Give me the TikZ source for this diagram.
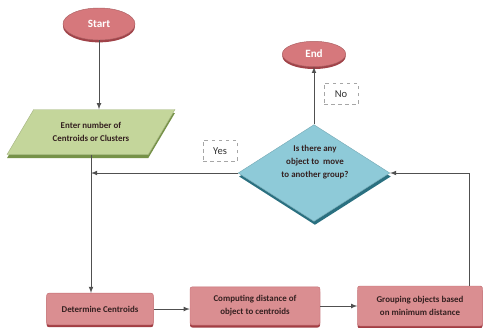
\documentclass[tikz,border=0pt]{standalone}
\usepackage{fontspec}
\setmainfont{Carlito}
\usetikzlibrary{shapes.geometric,shadows}

\definecolor{termred}{RGB}{214,120,124}
\definecolor{termdark}{RGB}{160,66,72}
\definecolor{boxred}{RGB}{218,142,145}
\definecolor{boxline}{RGB}{196,110,115}
\definecolor{boxdark}{RGB}{162,62,68}
\definecolor{inputgreen}{RGB}{196,214,155}
\definecolor{inputdark}{RGB}{118,146,72}
\definecolor{askblue}{RGB}{142,202,216}
\definecolor{askdark}{RGB}{42,112,128}
\definecolor{txtdark}{RGB}{52,32,32}
\definecolor{linegray}{RGB}{80,80,80}

\tikzset{
	term/.style={ellipse,fill=termred,draw=termred!80!black,thin,text=white,
		font=\fontsize{9.5}{11}\selectfont\bfseries,
		drop shadow={shadow xshift=0pt,shadow yshift=-2pt,fill=termdark,opacity=1}},
	proc/.style={rectangle,rounded corners=2pt,fill=boxred,draw=boxline,thin,
		text=txtdark,align=center,
		drop shadow={shadow xshift=0pt,shadow yshift=-2pt,fill=boxdark,opacity=1}},
	inbox/.style={trapezium,trapezium left angle=54,trapezium right angle=126,
		trapezium stretches=true,fill=inputgreen,draw=inputgreen!85!black,thin,
		text=txtdark,align=center,
		drop shadow={shadow xshift=0pt,shadow yshift=-3pt,fill=inputdark,opacity=1}},
	ask/.style={diamond,fill=askblue,draw=askblue!85!black,thin,
		drop shadow={shadow xshift=0.8pt,shadow yshift=-3pt,fill=askdark,opacity=1}},
	tag/.style={draw=gray!70,dashed,thin,text=gray!40!black,
		font=\fontsize{9}{10}\selectfont,minimum width=1.02cm,minimum height=0.64cm},
	conn/.style={draw=linegray,line width=0.8pt,-latex}
}

\begin{document}
\begin{tikzpicture}[x=0.03cm,y=-0.03cm,font=\fontsize{7.6}{11}\selectfont\bfseries]
\useasboundingbox (0,0) rectangle (484,327);

\node[term,minimum width=2.16cm,minimum height=0.96cm] (start) at (99,24) {Start};
\node[inbox,minimum width=5.04cm,minimum height=1.35cm] (para) at (91,132) {Enter number of\\Centroids or Clusters};
\node[term,minimum width=1.9cm,minimum height=0.76cm] (end) at (314,54) {End};
\node[ask,minimum width=4.55cm,minimum height=2.9cm] (q) at (314,173) {};
\node[align=center,text=txtdark] (qtext) at (315,162) {Is there any\\object to \ move\\to another group?};
\node[proc,minimum width=3.2cm,minimum height=0.95cm] (det) at (100,309) {Determine Centroids};
\node[proc,minimum width=3.9cm,minimum height=1.15cm] (comp) at (255,306) {Computing distance of\\object to centroids};
\node[proc,minimum width=3.75cm,minimum height=1.2cm] (grp) at (420,306) {Grouping objects based\\on minimum distance};
\node[tag] (yes) at (220,151) {Yes};
\node[tag] (no) at (341,94) {No};

\draw[conn] (start) -- (start |- para.north);
\draw[conn] (para.south) -- (para.south |- det.north);
\draw[conn] (q.west) -- (q.west -| para.south);
\draw[conn] (q.north) -- (end.south);
\draw[conn] (det) -- (det -| comp.west);
\draw[conn] (comp) -- (comp -| grp.west);
\draw[conn] ([xshift=-0.4cm]grp.north east) |- (q.east);

\end{tikzpicture}
\end{document}
